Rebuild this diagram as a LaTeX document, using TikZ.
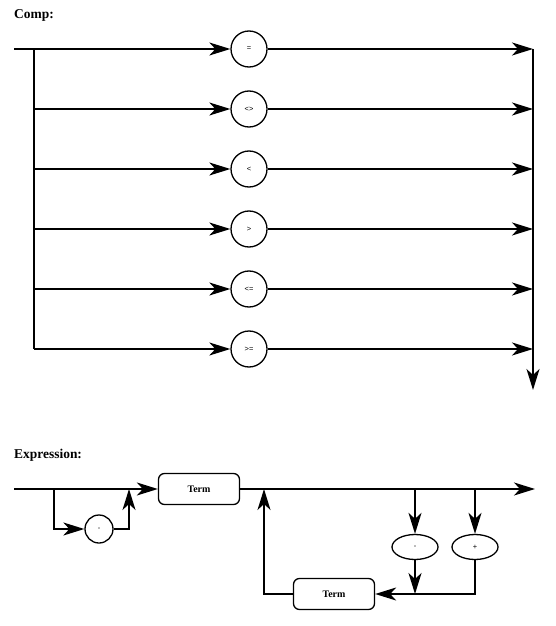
\documentclass[tikz,border=0pt]{standalone}
\usepackage{fontspec}
\setmainfont{Liberation Serif}
\newfontfamily\lblfont{Liberation Sans}
\usetikzlibrary{arrows.meta,shapes.geometric}
\tikzset{
  conn/.style={line width=1.7bp},
  arr/.style={conn,-{Stealth[length=21bp,width=13bp,inset=6bp]}},
  term/.style={circle,draw,line width=1.3bp,minimum size=36bp,inner sep=0pt,font=\lblfont\fontsize{7.5}{8}\selectfont},
  smallterm/.style={circle,draw,line width=1.3bp,minimum size=28bp,inner sep=0pt,font=\lblfont\fontsize{7.5}{8}\selectfont},
  oval/.style={ellipse,draw,line width=1.3bp,minimum width=46bp,minimum height=25bp,inner sep=0pt,font=\lblfont\fontsize{7.5}{8}\selectfont},
  nonterm/.style={rectangle,rounded corners=6bp,draw,line width=1.3bp,minimum width=81bp,minimum height=31bp,inner sep=0pt,font=\bfseries\fontsize{10}{11}\selectfont},
  title/.style={anchor=west,font=\bfseries\fontsize{13.5}{15}\selectfont,inner sep=0pt}
}
\begin{document}
\begin{tikzpicture}[x=1bp,y=-1bp]
\useasboundingbox (0,0) rectangle (556,626);
% ---------- Comp ----------
\node[title] (tcomp) at (14,15) {Comp:};
\coordinate (s) at (14,49);
\coordinate (rend) at (533,390);
\foreach \i/\y/\t in {1/49/{=},2/109/{<>},3/169/{<},4/229/{>},5/289/{<=},6/349/{>=}}{
  \node[term] (c\i) at (249,\y) {\t};
  \coordinate (b\i) at (34,\y);
  \coordinate (r\i) at (533,\y);
}
\draw[conn] (s) -- (b1);
\draw[conn] (b1) -- (b6);
\foreach \i in {1,...,6}{
  \draw[arr] (b\i) -- (c\i.west);
  \draw[arr] (c\i.east) -- (r\i);
}
\draw[arr] (r1) -- (rend);
% ---------- Expression ----------
\node[title] (texpr) at (14,455) {Expression:};
\coordinate (es) at (14,489);
\coordinate (eb1) at (54,489);
\node[smallterm] (neg) at (99,529) {-};
\coordinate (ec2) at (129,489);
\node[nonterm] (term1) at (199,489) {Term};
\coordinate (lt) at (264,489);
\node[nonterm] (term2) at (334,594) {Term};
\node[oval] (om) at (415,547) {-};
\node[oval] (op) at (475,547) {+};
\coordinate (d1) at (415,489);
\coordinate (d2) at (475,489);
\coordinate (j1) at (415,594);
\coordinate (eend) at (535,489);
\draw[arr] (es) -- (term1.west);
\draw[arr] (eb1) |- (neg.west);
\draw[arr] (neg.east) -| (ec2);
\draw[arr] (term1.east) -- (eend);
\draw[arr] (d1) -- (om.north);
\draw[arr] (d2) -- (op.north);
\draw[arr] (om.south) -- (j1);
\draw[arr] (op.south) |- (term2.east);
\draw[arr] (term2.west) -| (lt);
\end{tikzpicture}
\end{document}
